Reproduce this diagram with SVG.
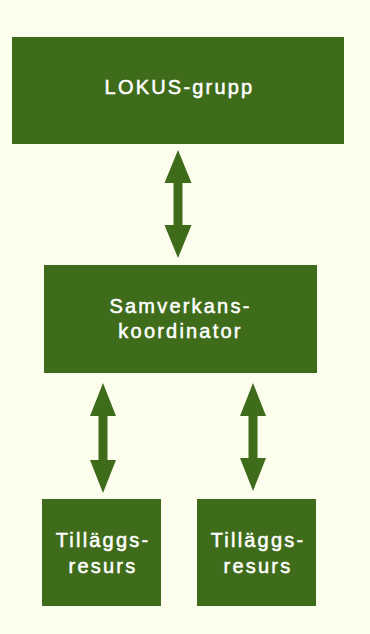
<svg xmlns="http://www.w3.org/2000/svg" width="370" height="634" viewBox="0 0 370 634">
<style>
.box{fill:#3f6c1b}
.arr{fill:#3f6c1b}
.t{font-family:"Liberation Sans",Arial,sans-serif;font-size:20px;fill:#ffffff;stroke:#ffffff;stroke-width:0.5px;text-anchor:middle;letter-spacing:2.2px}
</style>
<rect width="370" height="634" fill="#fdfdee"/>
<g id="connectors">
<polygon class="arr" points="178,150 191.5,183 182.5,183 182.5,225 191.5,225 178,258 164.5,225 173.5,225 173.5,183 164.5,183"/>
<polygon class="arr" points="103,383 116,416 107.5,416 107.5,460 116,460 103,493 90,460 98.5,460 98.5,416 90,416"/>
<polygon class="arr" points="253,383 266,416 257.5,416 257.5,458 266,458 253,491 240,458 248.5,458 248.5,416 240,416"/>
</g>
<g id="lokus">
<rect class="box" x="12" y="37" width="332" height="107"/>
<text class="t" x="179.5" y="94">LOKUS-grupp</text>
</g>
<g id="samverkans">
<rect class="box" x="44" y="265" width="273" height="108"/>
<text class="t" x="180.5" y="313">Samverkans-</text>
<text class="t" x="180.5" y="338">koordinator</text>
</g>
<g id="tillagg1">
<rect class="box" x="42" y="499" width="119" height="107"/>
<text class="t" x="103" y="547">Tilläggs-</text>
<text class="t" x="103" y="573">resurs</text>
</g>
<g id="tillagg2">
<rect class="box" x="197" y="499" width="119" height="107"/>
<text class="t" x="258" y="547">Tilläggs-</text>
<text class="t" x="258" y="573">resurs</text>
</g>
</svg>
